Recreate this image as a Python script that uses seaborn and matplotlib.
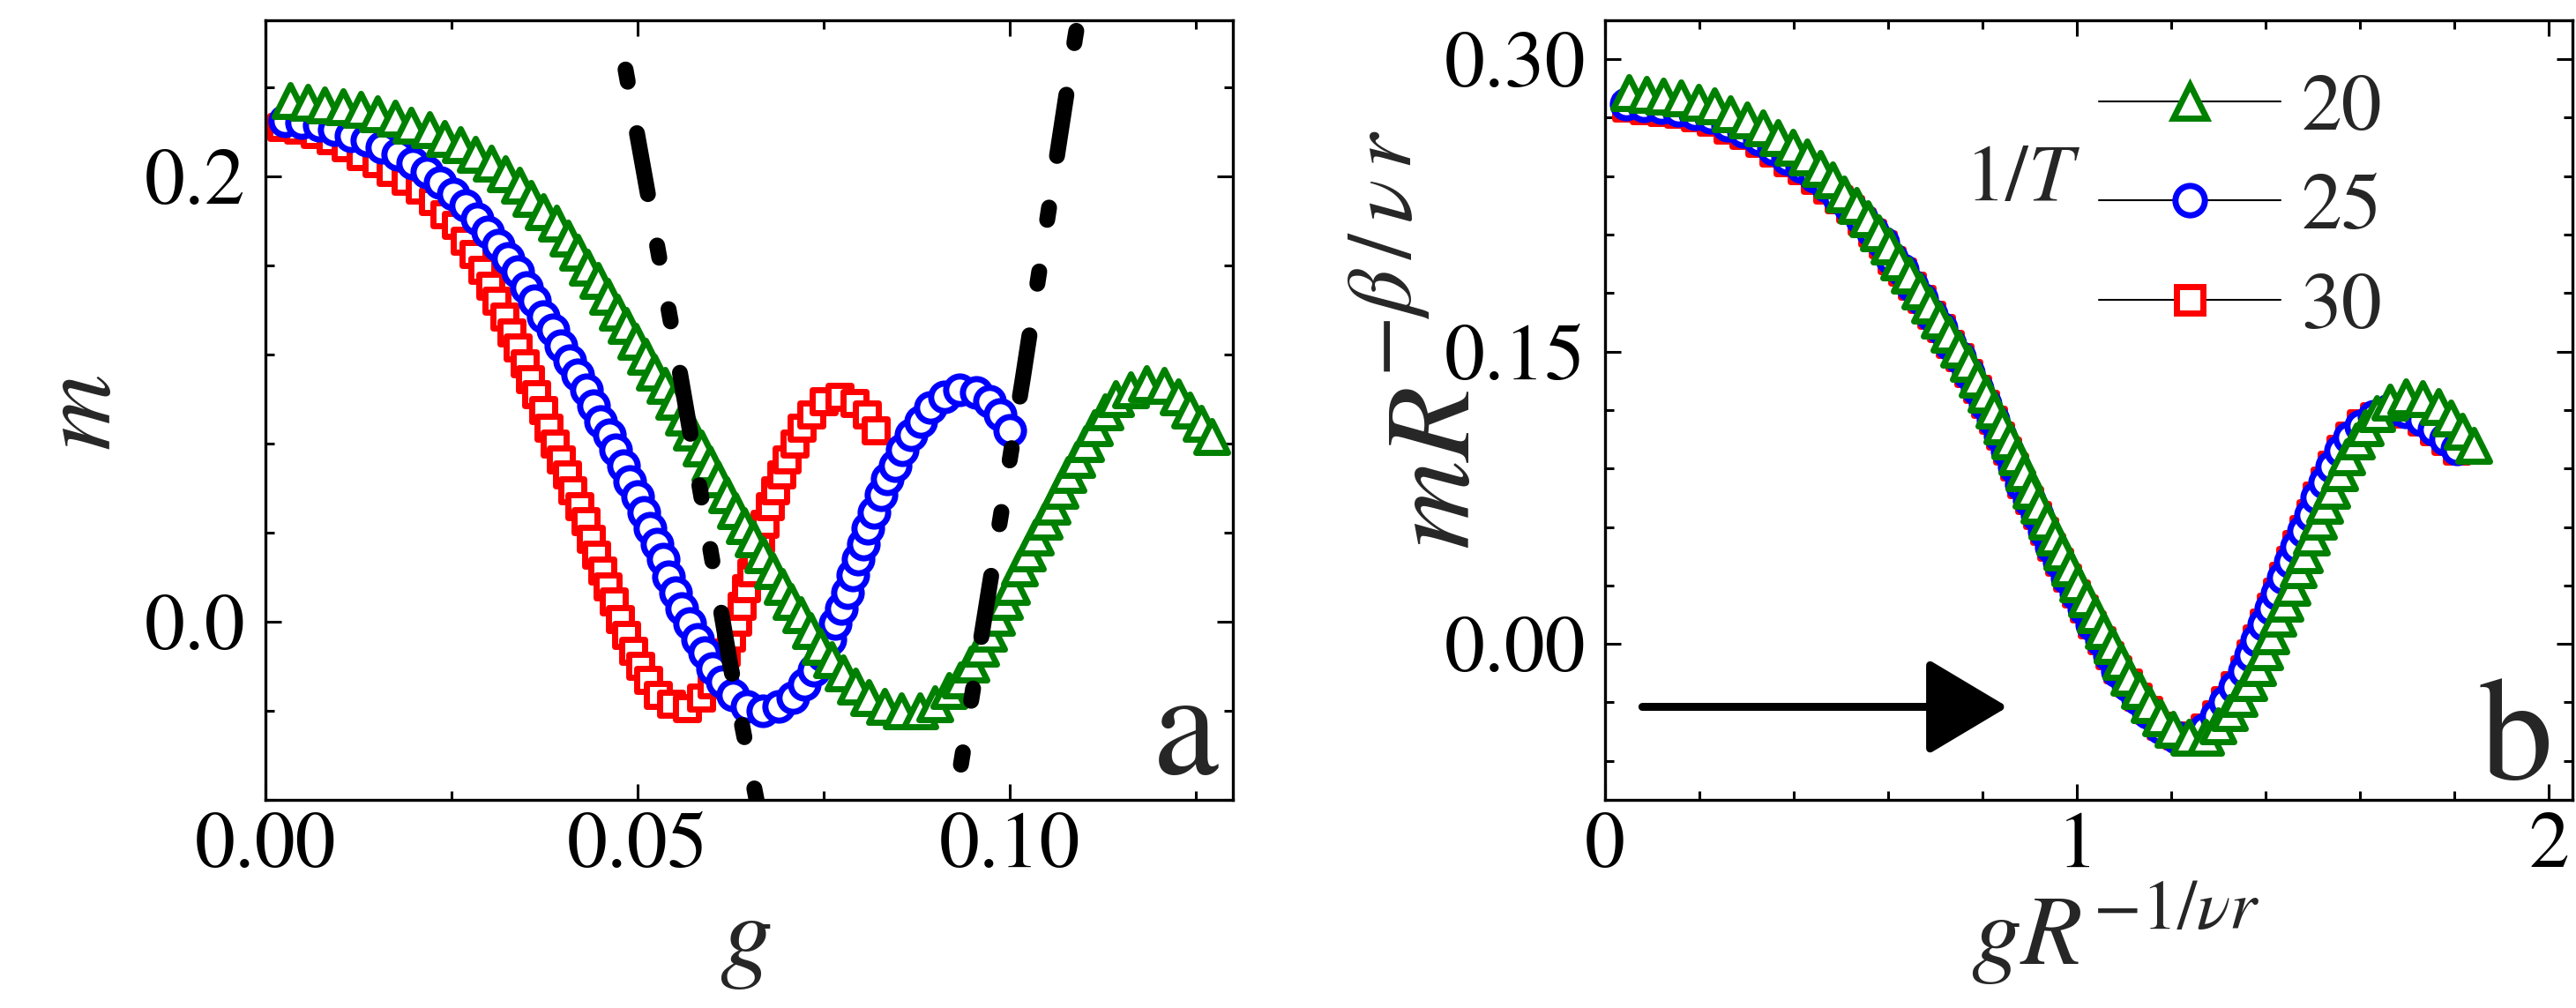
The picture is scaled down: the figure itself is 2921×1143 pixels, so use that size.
import matplotlib.pyplot as plt
import matplotlib.ticker as mticker
from matplotlib.lines import Line2D
import seaborn as sns

# ---- panel a : m vs g (one entry per plotted marker) ----
g_30 = [0.0021, 0.0044, 0.0066, 0.0088, 0.0108, 0.0128, 0.0149, 0.0169, 0.0189, 0.0208,
        0.0225, 0.0241, 0.0256, 0.0268, 0.0280, 0.0292, 0.0302, 0.0311, 0.0321, 0.0331,
        0.0339, 0.0348, 0.0356, 0.0364, 0.0373, 0.0381, 0.0389, 0.0397, 0.0405, 0.0413,
        0.0422, 0.0430, 0.0437, 0.0445, 0.0453, 0.0460, 0.0468, 0.0476, 0.0485, 0.0494,
        0.0504, 0.0515, 0.0528, 0.0545, 0.0567, 0.0586, 0.0600, 0.0610, 0.0619, 0.0626,
        0.0634, 0.0640, 0.0646, 0.0653, 0.0659, 0.0665, 0.0671, 0.0678, 0.0685, 0.0693,
        0.0701, 0.0711, 0.0721, 0.0734, 0.0750, 0.0772, 0.0792, 0.0808, 0.0820]
m_30 = [0.222, 0.221, 0.219, 0.216, 0.213, 0.209, 0.206, 0.202, 0.198, 0.194,
        0.189, 0.183, 0.178, 0.171, 0.165, 0.158, 0.151, 0.144, 0.137, 0.130,
        0.123, 0.116, 0.109, 0.102, 0.095, 0.087, 0.080, 0.073, 0.066, 0.059,
        0.052, 0.045, 0.037, 0.030, 0.023, 0.016, 0.009, 0.001, -0.006, -0.013,
        -0.020, -0.026, -0.033, -0.037, -0.039, -0.034, -0.028, -0.021, -0.014, -0.007,
        0.000, 0.007, 0.015, 0.022, 0.030, 0.037, 0.044, 0.052, 0.059, 0.066,
        0.073, 0.080, 0.087, 0.093, 0.099, 0.101, 0.098, 0.093, 0.086]

g_25 = [0.0026, 0.0049, 0.0072, 0.0093, 0.0115, 0.0137, 0.0157, 0.0178, 0.0198, 0.0217,
        0.0235, 0.0253, 0.0269, 0.0285, 0.0299, 0.0313, 0.0326, 0.0339, 0.0351, 0.0362,
        0.0374, 0.0386, 0.0397, 0.0409, 0.0420, 0.0431, 0.0441, 0.0451, 0.0462, 0.0471,
        0.0481, 0.0490, 0.0500, 0.0508, 0.0517, 0.0526, 0.0534, 0.0542, 0.0551, 0.0560,
        0.0570, 0.0581, 0.0590, 0.0601, 0.0614, 0.0628, 0.0647, 0.0668, 0.0690, 0.0709,
        0.0724, 0.0737, 0.0749, 0.0758, 0.0766, 0.0774, 0.0782, 0.0789, 0.0796, 0.0803,
        0.0810, 0.0818, 0.0827, 0.0836, 0.0846, 0.0856, 0.0868, 0.0880, 0.0894, 0.0912,
        0.0933, 0.0955, 0.0973, 0.0987, 0.1000]
m_25 = [0.225, 0.224, 0.223, 0.221, 0.218, 0.216, 0.213, 0.210, 0.206, 0.202,
        0.197, 0.192, 0.187, 0.181, 0.175, 0.169, 0.163, 0.157, 0.150, 0.144,
        0.137, 0.131, 0.124, 0.117, 0.111, 0.104, 0.097, 0.090, 0.084, 0.077,
        0.070, 0.063, 0.056, 0.049, 0.042, 0.035, 0.028, 0.020, 0.013, 0.006,
        -0.001, -0.008, -0.014, -0.021, -0.027, -0.033, -0.038, -0.040, -0.038, -0.034,
        -0.028, -0.022, -0.015, -0.008, -0.001, 0.006, 0.013, 0.021, 0.028, 0.035,
        0.042, 0.049, 0.057, 0.064, 0.070, 0.077, 0.084, 0.090, 0.096, 0.101,
        0.104, 0.103, 0.099, 0.093, 0.086]

g_20 = [0.0033, 0.0057, 0.0080, 0.0104, 0.0128, 0.0151, 0.0174, 0.0196, 0.0220, 0.0241,
        0.0262, 0.0282, 0.0303, 0.0323, 0.0341, 0.0357, 0.0374, 0.0391, 0.0406, 0.0420,
        0.0433, 0.0447, 0.0460, 0.0473, 0.0485, 0.0498, 0.0511, 0.0523, 0.0537, 0.0549,
        0.0562, 0.0573, 0.0585, 0.0597, 0.0608, 0.0620, 0.0632, 0.0644, 0.0656, 0.0668,
        0.0681, 0.0694, 0.0706, 0.0719, 0.0732, 0.0746, 0.0761, 0.0776, 0.0793, 0.0811,
        0.0832, 0.0854, 0.0879, 0.0900, 0.0918, 0.0934, 0.0948, 0.0961, 0.0972, 0.0982,
        0.0993, 0.1003, 0.1013, 0.1024, 0.1034, 0.1046, 0.1057, 0.1068, 0.1079, 0.1090,
        0.1102, 0.1114, 0.1128, 0.1143, 0.1163, 0.1184, 0.1207, 0.1226, 0.1242, 0.1257,
        0.1272]
m_20 = [0.234, 0.233, 0.232, 0.231, 0.230, 0.228, 0.226, 0.223, 0.221, 0.217,
        0.214, 0.210, 0.206, 0.201, 0.196, 0.190, 0.184, 0.179, 0.172, 0.166,
        0.159, 0.153, 0.146, 0.139, 0.133, 0.126, 0.119, 0.112, 0.106, 0.099,
        0.092, 0.085, 0.078, 0.071, 0.064, 0.057, 0.050, 0.043, 0.037, 0.030,
        0.023, 0.016, 0.009, 0.003, -0.004, -0.011, -0.017, -0.023, -0.029, -0.034,
        -0.038, -0.040, -0.040, -0.037, -0.031, -0.026, -0.019, -0.012, -0.005, 0.002,
        0.009, 0.016, 0.024, 0.031, 0.038, 0.045, 0.052, 0.059, 0.066, 0.073,
        0.080, 0.087, 0.094, 0.100, 0.104, 0.107, 0.106, 0.101, 0.095, 0.089,
        0.083]

# dash-dot guide curves (listed bottom -> top)
guide_left_g = [0.0660, 0.0624, 0.0558, 0.0485, 0.0472]
guide_left_m = [-0.080, -0.018, 0.110, 0.246, 0.270]
guide_right_g = [0.0927, 0.0970, 0.1018, 0.1088, 0.1092]
guide_right_m = [-0.080, 0.0097, 0.1097, 0.262, 0.270]

# ---- panel b : scaled data ----
xs_20 = [0.050, 0.087, 0.124, 0.160, 0.197, 0.232, 0.266, 0.301, 0.335, 0.366,
         0.397, 0.427, 0.455, 0.482, 0.507, 0.532, 0.556, 0.580, 0.602, 0.623,
         0.645, 0.666, 0.687, 0.708, 0.728, 0.749, 0.769, 0.788, 0.807, 0.824,
         0.841, 0.857, 0.872, 0.887, 0.903, 0.920, 0.936, 0.952, 0.968, 0.985,
         1.002, 1.020, 1.038, 1.056, 1.075, 1.093, 1.110, 1.132, 1.153, 1.177,
         1.203, 1.237, 1.272, 1.299, 1.322, 1.343, 1.363, 1.383, 1.397, 1.411,
         1.426, 1.440, 1.455, 1.468, 1.482, 1.496, 1.511, 1.525, 1.540, 1.556,
         1.572, 1.591, 1.610, 1.635, 1.663, 1.696, 1.732, 1.765, 1.791, 1.816,
         1.840]
ys_20 = [0.283, 0.282, 0.281, 0.280, 0.278, 0.276, 0.272, 0.269, 0.265, 0.260,
         0.255, 0.250, 0.244, 0.238, 0.231, 0.225, 0.218, 0.211, 0.204, 0.196,
         0.189, 0.181, 0.174, 0.166, 0.159, 0.151, 0.144, 0.136, 0.128, 0.120,
         0.112, 0.104, 0.096, 0.088, 0.079, 0.071, 0.063, 0.055, 0.047, 0.039,
         0.031, 0.023, 0.015, 0.007, -0.001, -0.009, -0.017, -0.024, -0.031, -0.038,
         -0.044, -0.048, -0.048, -0.042, -0.035, -0.028, -0.020, -0.012, -0.004, 0.004,
         0.013, 0.021, 0.029, 0.038, 0.046, 0.055, 0.063, 0.071, 0.079, 0.088,
         0.096, 0.104, 0.111, 0.118, 0.124, 0.127, 0.126, 0.122, 0.116, 0.109,
         0.102]

xs_25_30 = [0.045, 0.082, 0.119, 0.155, 0.191, 0.225, 0.259, 0.293, 0.326, 0.356,
            0.387, 0.416, 0.444, 0.470, 0.495, 0.519, 0.543, 0.566, 0.588, 0.608,
            0.630, 0.650, 0.671, 0.691, 0.711, 0.731, 0.751, 0.770, 0.788, 0.805,
            0.822, 0.837, 0.852, 0.867, 0.882, 0.899, 0.915, 0.930, 0.946, 0.963,
            0.979, 0.997, 1.015, 1.032, 1.051, 1.069, 1.085, 1.107, 1.128, 1.151,
            1.177, 1.210, 1.244, 1.271, 1.294, 1.314, 1.334, 1.354, 1.368, 1.381,
            1.396, 1.410, 1.424, 1.437, 1.451, 1.465, 1.480, 1.494, 1.508, 1.524,
            1.540, 1.558, 1.577, 1.601, 1.629, 1.661, 1.697, 1.730, 1.756, 1.781,
            1.805]
ys_25 = [0.277, 0.276, 0.275, 0.274, 0.272, 0.270, 0.266, 0.263, 0.259, 0.254,
         0.249, 0.245, 0.240, 0.235, 0.229, 0.224, 0.218, 0.212, 0.206, 0.198,
         0.192, 0.184, 0.177, 0.169, 0.162, 0.154, 0.147, 0.139, 0.131, 0.123,
         0.115, 0.107, 0.099, 0.091, 0.082, 0.074, 0.066, 0.058, 0.050, 0.042,
         0.034, 0.026, 0.018, 0.010, 0.002, -0.006, -0.014, -0.021, -0.028, -0.035,
         -0.043, -0.048, -0.049, -0.044, -0.037, -0.030, -0.022, -0.014, -0.006, 0.002,
         0.010, 0.018, 0.026, 0.034, 0.042, 0.050, 0.058, 0.066, 0.075, 0.083,
         0.091, 0.099, 0.106, 0.112, 0.117, 0.120, 0.119, 0.115, 0.110, 0.105,
         0.100]
ys_30 = [0.275, 0.274, 0.273, 0.272, 0.270, 0.268, 0.264, 0.261, 0.257, 0.252,
         0.247, 0.243, 0.238, 0.233, 0.228, 0.223, 0.217, 0.211, 0.205, 0.197,
         0.191, 0.184, 0.177, 0.169, 0.162, 0.154, 0.147, 0.139, 0.131, 0.123,
         0.115, 0.107, 0.099, 0.091, 0.082, 0.074, 0.066, 0.058, 0.050, 0.042,
         0.034, 0.026, 0.018, 0.010, 0.002, -0.006, -0.013, -0.020, -0.027, -0.034,
         -0.042, -0.047, -0.048, -0.043, -0.036, -0.029, -0.021, -0.013, -0.005, 0.003,
         0.011, 0.019, 0.027, 0.035, 0.043, 0.051, 0.059, 0.067, 0.076, 0.084,
         0.092, 0.100, 0.107, 0.113, 0.117, 0.119, 0.118, 0.114, 0.109, 0.104,
         0.099]

legend_labels = ["20", "25", "30"]

GREEN = "#008000"
BLUE = "#0000ff"
RED = "#ff0000"

sns.set_theme(style="ticks")
# STIX ships with matplotlib and is a Times-like face
plt.rcParams["font.family"] = ["STIXGeneral", "DejaVu Serif"]
plt.rcParams["mathtext.fontset"] = "stix"

fig = plt.figure(figsize=(29.21, 11.43), dpi=100, facecolor="white")
ax_a = fig.add_axes([0.1030, 0.2065, 0.3756, 0.7734])
ax_b = fig.add_axes([0.6231, 0.2065, 0.3756, 0.7734])

# dash pattern in units of line width: short, gap, short, gap, long, gap
DASH = (0.78, 3.28, 0.78, 3.28, 3.89, 3.28)


def draw_markers(ax, x, y, marker, ms, color):
    sns.scatterplot(x=x, y=y, marker=marker, s=ms ** 2, facecolor="white",
                    edgecolor=color, linewidth=5.0, legend=False, ax=ax, zorder=2)


def draw_guide(ax, g, m, offset):
    ax.plot(g, m, color="black", linewidth=13, linestyle=(offset, DASH),
            dash_capstyle="round", zorder=3)


# panel a
draw_markers(ax_a, g_30, m_30, "s", 19, RED)
draw_markers(ax_a, g_25, m_25, "o", 22.5, BLUE)
draw_markers(ax_a, g_20, m_20, "^", 26, GREEN)
draw_guide(ax_a, guide_left_g, guide_left_m, 0.05)
draw_guide(ax_a, guide_right_g, guide_right_m, 13.05)

# panel b
draw_markers(ax_b, xs_25_30, ys_30, "s", 19, RED)
draw_markers(ax_b, xs_25_30, ys_25, "o", 22.5, BLUE)
draw_markers(ax_b, xs_20, ys_20, "^", 26, GREEN)
ax_b.annotate("", xy=(0.853, -0.0323), xytext=(0.079, -0.0323),
              arrowprops=dict(arrowstyle="-|>,head_length=0.57,head_width=0.34",
                              lw=6.5, color="black", shrinkA=0, shrinkB=0,
                              mutation_scale=100))

ax_a.set_xlim(0, 0.13)
ax_a.set_ylim(-0.08, 0.27)
ax_b.set_xlim(0, 2.05)
ax_b.set_ylim(-0.08, 0.32)

ax_a.xaxis.set_major_locator(mticker.MultipleLocator(0.05))
ax_a.xaxis.set_minor_locator(mticker.MultipleLocator(0.025))
ax_a.yaxis.set_major_locator(mticker.MultipleLocator(0.2))
ax_a.yaxis.set_minor_locator(mticker.MultipleLocator(0.04))
ax_a.xaxis.set_major_formatter(mticker.FormatStrFormatter("%.2f"))
ax_a.yaxis.set_major_formatter(mticker.FormatStrFormatter("%.1f"))

ax_b.xaxis.set_major_locator(mticker.MultipleLocator(1))
ax_b.xaxis.set_minor_locator(mticker.MultipleLocator(0.2))
ax_b.yaxis.set_major_locator(mticker.MultipleLocator(0.15))
ax_b.yaxis.set_minor_locator(mticker.MultipleLocator(0.03))
ax_b.xaxis.set_major_formatter(mticker.FormatStrFormatter("%d"))
ax_b.yaxis.set_major_formatter(mticker.FormatStrFormatter("%.2f"))

for ax in (ax_a, ax_b):
    ax.set_facecolor("white")
    ax.grid(False)
    ax.tick_params(which="both", direction="in", top=True, right=True,
                   width=2.2, color="black", labelcolor="black")
    ax.tick_params(which="major", length=13, labelsize=66)
    ax.tick_params(which="minor", length=7)
    ax.tick_params(axis="x", pad=10)
    ax.tick_params(axis="y", pad=16)
    for sp in ax.spines.values():
        sp.set_visible(True)
        sp.set_linewidth(2.4)
        sp.set_color("black")

# axis labels
ax_a.set_xlabel(r"$g$", fontsize=86, va="baseline")
ax_a.xaxis.set_label_coords(0.496, -0.215)
ax_a.set_ylabel(r"$m$", fontsize=86, va="baseline")
ax_a.yaxis.set_label_coords(-0.160, 0.497)

ax_b.set_xlabel(r"$gR^{-1/\nu r}$", fontsize=82, va="baseline")
ax_b.xaxis.set_label_coords(0.527, -0.212)
# the y label of panel b has a large, well separated exponent: base and exponent set apart
ax_b.set_ylabel("")
ax_b.text(-0.1404, 0.3213, r"$mR$", transform=ax_b.transAxes, fontsize=100,
          rotation=90, rotation_mode="anchor", ha="left", va="baseline")
ax_b.text(-0.2005, 0.5419, r"$-\beta\,/\,\nu\,r$", transform=ax_b.transAxes, fontsize=74,
          rotation=90, rotation_mode="anchor", ha="left", va="baseline")

# panel letters
ax_a.text(0.985, 0.034, "a", transform=ax_a.transAxes, ha="right", va="baseline", fontsize=120)
ax_b.text(0.980, 0.027, "b", transform=ax_b.transAxes, ha="right", va="baseline", fontsize=120)

# legend
handles = [
    Line2D([], [], color="black", lw=1.5, marker="^", ms=27, mfc="white", mec=GREEN, mew=5),
    Line2D([], [], color="black", lw=1.5, marker="o", ms=24, mfc="white", mec=BLUE, mew=5),
    Line2D([], [], color="black", lw=1.5, marker="s", ms=21, mfc="white", mec=RED, mew=5),
]
ax_b.legend(handles, legend_labels, loc="upper left", bbox_to_anchor=(0.5105, 0.9325),
            frameon=False, fontsize=66, handlelength=2.25, handletextpad=0.25,
            labelspacing=0.31, borderpad=0, borderaxespad=0)
ax_b.text(0.372, 0.769, r"1/$T$", transform=ax_b.transAxes, fontsize=66,
          ha="left", va="baseline")

fig.savefig("out.png", dpi=100, facecolor="white")
